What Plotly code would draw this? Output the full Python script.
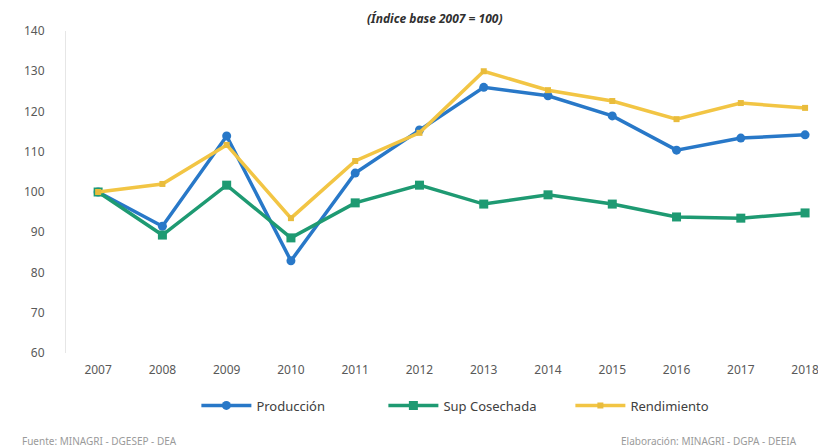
import plotly.graph_objects as go

# datos (índice base 2007 = 100)
anios = ["2007", "2008", "2009", "2010", "2011", "2012",
         "2013", "2014", "2015", "2016", "2017", "2018"]
produccion = [100, 91.5, 113.9, 82.9, 104.7, 115.4, 126.0, 123.9, 118.9, 110.4, 113.4, 114.2]
sup_cosechada = [100, 89.3, 101.7, 88.6, 97.3, 101.7, 97.0, 99.3, 97.0, 93.8, 93.5, 94.8]
rendimiento = [100, 102.0, 111.7, 93.5, 107.7, 114.7, 130.0, 125.3, 122.6, 118.1, 122.1, 120.9]

x = list(range(len(anios)))

fig = go.Figure()
fig.add_trace(go.Scatter(x=x, y=produccion, name="Producción", mode="lines+markers",
                         line=dict(color="#2878C8", width=3.5),
                         marker=dict(symbol="circle", size=9, color="#2878C8")))
fig.add_trace(go.Scatter(x=x, y=sup_cosechada, name="Sup Cosechada", mode="lines+markers",
                         line=dict(color="#1E9A72", width=3.5),
                         marker=dict(symbol="square", size=9, color="#1E9A72")))
fig.add_trace(go.Scatter(x=x, y=rendimiento, name="Rendimiento", mode="lines+markers",
                         line=dict(color="#F2C544", width=3.5),
                         marker=dict(symbol="square", size=6, color="#E9BC3C")))

fig.update_layout(
    width=826, height=448,
    margin=dict(l=58, r=0, t=23, b=103),
    paper_bgcolor="white", plot_bgcolor="white",
    font=dict(family="Noto Sans", size=12, color="#595959"),
    showlegend=True,
    legend=dict(orientation="h", x=0.535, xanchor="center", y=-0.163, yanchor="middle",
                font=dict(size=13, color="#404040"), itemwidth=50,
                entrywidth=122, entrywidthmode="pixels"),
    xaxis=dict(tickmode="array", tickvals=x, ticktext=anios, range=[-0.5, 11.45],
               showgrid=False, zeroline=False, showline=False, ticks="",
               ticklabelstandoff=8),
    yaxis=dict(range=[60, 140], dtick=10, showgrid=False, zeroline=False,
               showline=True, linecolor="#E6E6E6", ticks="", ticklabelstandoff=18),
)

fig.add_annotation(text="<b><i>(Índice base 2007 = 100)</i></b>", xref="paper", yref="paper",
                   x=0.48, y=1.0, yanchor="middle", yshift=13, showarrow=False,
                   font=dict(size=12, color="#303030"))
fig.add_annotation(text="Fuente: MINAGRI - DGESEP - DEA", xref="paper", yref="paper",
                   x=-0.06, xanchor="left", y=-0.274, yanchor="middle", showarrow=False,
                   font=dict(size=10, color="#9A9A9A"))
fig.add_annotation(text="Elaboración: MINAGRI - DGPA - DEEIA", xref="paper", yref="paper",
                   x=0.955, xanchor="right", y=-0.274, yanchor="middle", showarrow=False,
                   font=dict(size=10, color="#9A9A9A"))

fig.write_html("out.html")
